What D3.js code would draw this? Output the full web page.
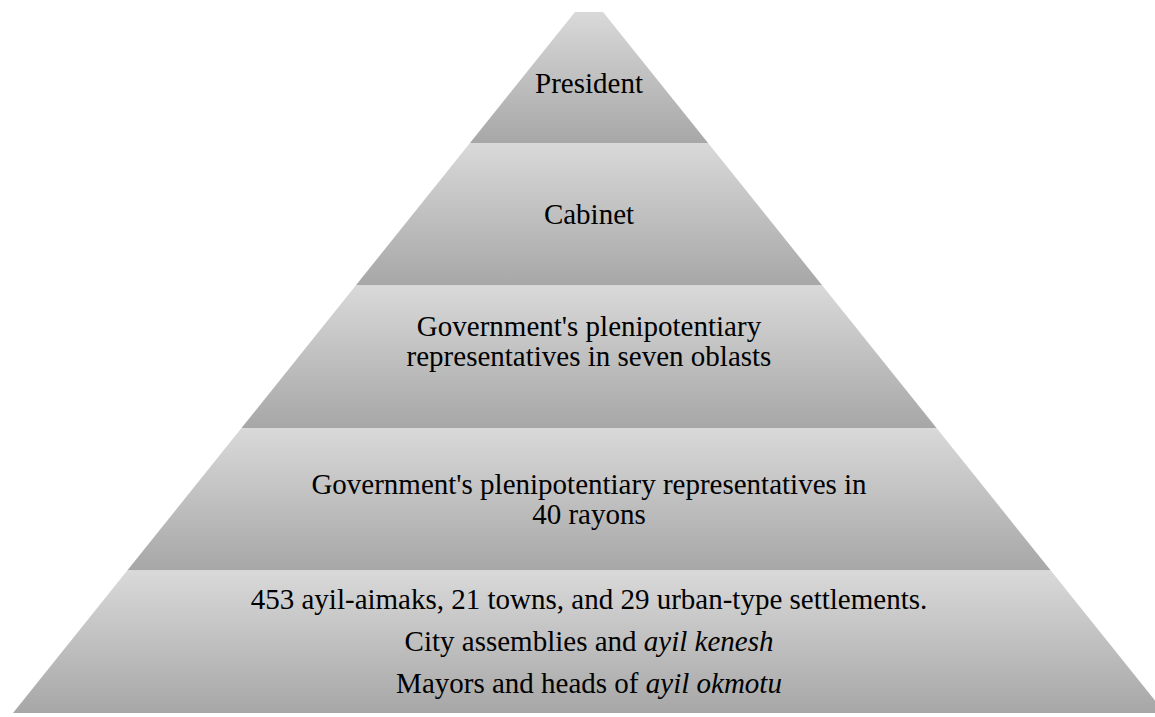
<!DOCTYPE html>
<html>
<head>
<meta charset="utf-8">
<script src="https://cdn.jsdelivr.net/npm/d3@7"></script>
<style>
  body { margin: 0; background: #fff; }
  svg { display: block; }
  .label { font-family: "Liberation Serif", "Times New Roman", Times, serif; }
</style>
</head>
<body>
<svg id="pyramid" width="1155" height="717"></svg>
<script>
// levels from top (apex) to base; *...* marks italic words
const levels = ["President", "Cabinet", "Oblasts", "Rayons", "Local"];
const levelLines = [
  ["President"],
  ["Cabinet"],
  ["Government's plenipotentiary", "representatives in seven oblasts", ""],
  ["Government's plenipotentiary representatives in", "40 rayons"],
  ["453 ayil-aimaks, 21 towns, and 29 urban-type settlements.",
   "City assemblies and *ayil kenesh*",
   "Mayors and heads of *ayil okmotu*"]
];
const lineSpacing = [30, 30, 30, 30, 42];

function drawPyramid() {
  const svg = d3.select("#pyramid");
  svg.selectAll("*").remove();

  const cx = 589;
  const baseY = 713;
  const topCut = 12;     // flattened tip
  const apexY = -5.5;    // where the sides would meet
  const halfBase = 576;

  // band boundaries
  const y = d3.scaleLinear()
    .domain([0, levels.length])
    .range([0.5, baseY]);

  // half-width of the pyramid at a given height
  const w = d3.scaleLinear()
    .domain([apexY, baseY])
    .range([0, halfBase]);

  const defs = svg.append("defs");
  const grad = defs.append("linearGradient")
    .attr("id", "bandFill")
    .attr("x1", 0).attr("y1", 0).attr("x2", 0).attr("y2", 1);
  grad.append("stop").attr("offset", "0%").attr("stop-color", "#d9d9d9");
  grad.append("stop").attr("offset", "100%").attr("stop-color", "#a7a7a7");

  const bands = svg.selectAll("g.band")
    .data(levels)
    .enter()
    .append("g")
    .attr("class", "band");

  bands.append("path")
    .attr("fill", "url(#bandFill)")
    .attr("d", (d, i) => {
      const y0 = Math.max(y(i), topCut);
      const y1 = y(i + 1);
      return d3.line()([
        [cx - w(y0), y0], [cx + w(y0), y0],
        [cx + w(y1), y1], [cx - w(y1), y1]
      ]) + "Z";
    });

  const fontSize = 29;
  const labelShift = [6, 0, 0, 0, 0];

  bands.each(function (d, i) {
    const lines = levelLines[i];
    const gap = lineSpacing[i];
    const mid = (Math.max(y(i), topCut) + y(i + 1)) / 2 + labelShift[i];
    const first = mid - (lines.length - 1) * gap / 2 + fontSize * 0.33;

    const text = d3.select(this).append("text")
      .attr("class", "label")
      .attr("text-anchor", "middle")
      .style("font-size", fontSize + "px")
      .attr("fill", "#000");

    lines.forEach((line, k) => {
      if (!line) return;
      const row = text.append("tspan")
        .attr("x", cx)
        .attr("y", first + k * gap);
      line.split("*").forEach((part, j) => {
        if (!part) return;
        row.append("tspan")
          .style("font-style", j % 2 ? "italic" : "normal")
          .text(part);
      });
    });
  });
}

drawPyramid();
</script>
</body>
</html>
